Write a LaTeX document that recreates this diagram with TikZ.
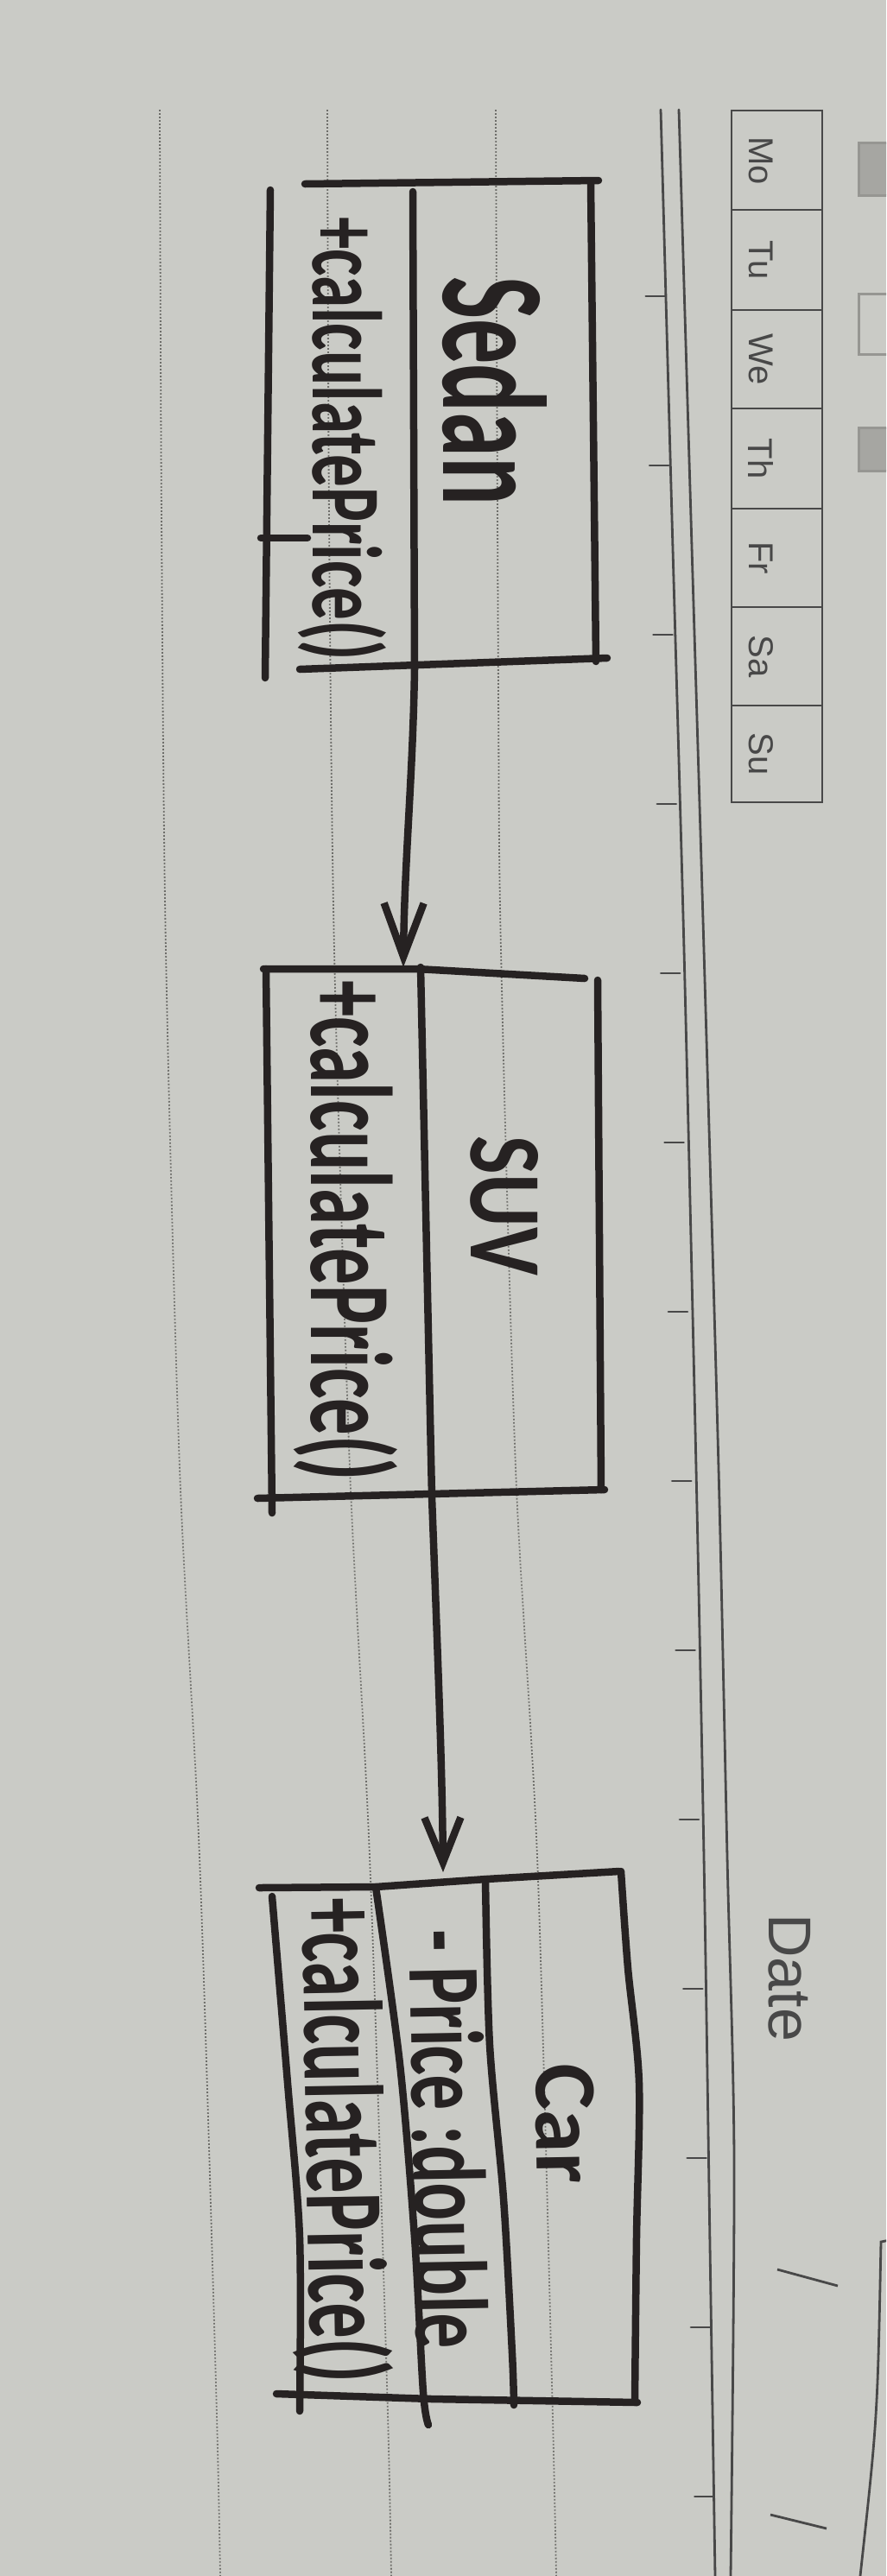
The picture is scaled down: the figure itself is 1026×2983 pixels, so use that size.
\documentclass[tikz,border=0pt]{standalone}
\usepackage{graphicx}
\usepackage{fontspec}
\setmainfont{Liberation Sans}
\newfontfamily\handfont{Carlito}
\usetikzlibrary{arrows.meta}
\definecolor{paper}{RGB}{202,203,198}
\definecolor{ink}{RGB}{38,34,34}
\definecolor{printc}{RGB}{72,72,72}
\definecolor{dotc}{RGB}{110,110,106}
\definecolor{iconc}{RGB}{150,150,146}
\newcommand{\hwtext}[3]{\resizebox{#1pt}{#2pt}{#3}}
\begin{document}
\begin{tikzpicture}[x=1pt,y=-1pt,
  hand/.style={draw=ink,line width=8.5pt,line cap=round,line join=round},
  handtext/.style={inner sep=0pt,outer sep=0pt,text=ink,font=\handfont\bfseries,anchor=base west},
  dotline/.style={draw=dotc,line width=1.8pt,dash pattern=on 1.8pt off 2.2pt},
  ruled/.style={draw=printc,line width=2.8pt,line cap=round},
  daytext/.style={rotate=-90,inner sep=0pt,text=printc,font=\fontsize{40}{40}\selectfont},
]
\useasboundingbox (0,0) rectangle (1026,2983);
\clip (0,0) rectangle (1026,2983);
\fill[paper] (0,0) rectangle (1026,2983);

% notebook dotted rulings
\draw[dotline] plot[smooth] coordinates {(185,127) (187,600) (192,1100) (208,1700) (231,2150) (250,2760) (255,2983)};
\draw[dotline] plot[smooth] coordinates {(379,127) (381,600) (387,1100) (405,1700) (428,2150) (448,2760) (453,2983)};
\draw[dotline] plot[smooth] coordinates {(574,127) (577,800) (580,1100) (597,1700) (622,2150) (639,2760) (644,2983)};

% double margin line
\draw[ruled] plot[smooth] coordinates {(765,127) (778,600) (792,1100) (806,1700) (815,2150) (822,2600) (828,2983)};
\draw[ruled] plot[smooth] coordinates {(786,127) (800,600) (815,1100) (832,1700) (842,2150) (850,2500) (846,2983)};
\foreach \k in {0,...,13}{
  \pgfmathsetmacro\ty{343+196*\k}
  \pgfmathsetmacro\tx{765+0.0222*(\ty-127)}
  \draw[ruled] ({\tx-22},\ty) -- (\tx,\ty);
}

% weekday boxes
\draw[printc,line width=2.8pt] (847,128) rectangle (952,929);
\foreach \yy in {243,359,473,589,703,817}{
  \draw[printc,line width=2.8pt] (847,\yy) -- (952,\yy);
}
\node[daytext] (mo) at (881,186) {Mo};
\node[daytext] (tu) at (881,301) {Tu};
\node[daytext] (we) at (881,416) {We};
\node[daytext] (th) at (881,531) {Th};
\node[daytext] (fr) at (881,646) {Fr};
\node[daytext] (sa) at (881,760) {Sa};
\node[daytext] (su) at (881,873) {Su};

% icons at top right edge
\draw[iconc,line width=3pt,fill=iconc!70!paper] (994,165) rectangle (1040,226);
\draw[iconc,line width=3pt] (994,340) rectangle (1040,410);
\draw[iconc,line width=3pt,fill=iconc!70!paper] (994,495) rectangle (1040,545);

% Date
\node[rotate=-90,inner sep=0pt,text=printc,font=\fontsize{70}{70}\selectfont] (date) at (914,2290) {Date};
\draw[printc,line width=2.8pt] (900,2628) -- (970,2647);
\draw[printc,line width=2.8pt] (892,2912) -- (957,2928);
\draw[ruled] (1030,2594) -- (1020,2596) .. controls (1016,2800) .. (996,2983);

% ---- Sedan ----
\draw[hand] (353,213) -- (693,209);
\draw[hand] (684,212) -- (690,766);
\draw[hand] (347,775) -- (703,762);
\draw[hand] (313,220) -- (307,785);
\draw[hand] (478,222) -- (480,775);
\draw[hand] (302,623) -- (356,623);
\node[handtext,rotate=-90] (sedanName) at (513,320) {\hwtext{265}{120}{Sedan}};
\node[handtext,rotate=-90] (sedanOp) at (362,251) {\hwtext{514}{85}{+calculatePrice()}};

% ---- SUV ----
\draw[hand] (305,1122) -- (483,1122) -- (677,1133);
\draw[hand] (692,1135) -- (696,1725);
\draw[hand] (298,1735) -- (700,1725);
\draw[hand] (308,1122) -- (315,1752);
\draw[hand] (487,1120) -- (500,1733);
\node[handtext,rotate=-90] (suvName) at (545,1315) {\hwtext{162}{78}{SUV}};
\node[handtext,rotate=-90] (suvOp) at (360,1135) {\hwtext{580}{100}{+calculatePrice()}};

% ---- Car ----
\draw[hand] (300,2186) -- (435,2185) -- (563,2176) -- (717,2167);
\draw[hand] plot[smooth] coordinates {(719,2167) (727,2279) (740,2412) (737,2591) (735,2782)};
\draw[hand] (320,2772) -- (500,2778) -- (738,2782);
\draw[hand] plot[smooth] coordinates {(315,2196) (333,2412) (347,2591) (347,2792)};
\draw[hand] plot[smooth] coordinates {(562,2176) (567,2368) (583,2546) (593,2725) (595,2785)};
\draw[hand] plot[smooth] coordinates {(435,2185) (463,2390) (480,2591) (490,2770) (496,2808)};
\node[handtext,rotate=-89] (carName) at (620,2390) {\hwtext{139}{67}{Car}};
\node[handtext,rotate=-89] (carAttr) at (474,2235) {\hwtext{485}{84}{- Price :double}};
\node[handtext,rotate=-89] (carOp) at (350,2198) {\hwtext{562}{96}{+calculatePrice()}};

% ---- connectors ----
\coordinate (sedanOut) at (480,775);
\coordinate (suvIn) at (467,1120);
\coordinate (suvOut) at (500,1733);
\coordinate (carIn) at (513,2168);
\draw[hand,-{Straight Barb[length=62pt,width=46pt]}] (sedanOut) .. controls (478,900) and (468,1000) .. (suvIn);
\draw[hand,-{Straight Barb[length=52pt,width=42pt]}] (suvOut) .. controls (508,1950) and (512,2050) .. (carIn);
\end{tikzpicture}
\end{document}
